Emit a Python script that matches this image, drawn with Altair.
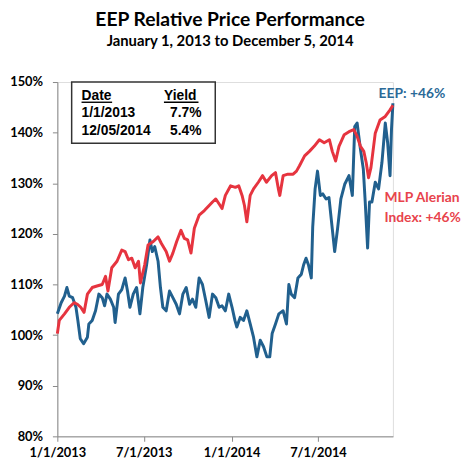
import altair as alt
import pandas as pd

# days since 1/1/2013 and value (%) for each series
mlp_days = [0, 4, 15, 25, 35, 42, 49, 56, 63, 73, 83, 94, 101, 106, 114, 125, 135, 142, 149, 156,
            163, 170, 174, 183, 190, 201, 211, 218, 228, 235, 242, 250, 259, 266, 273, 280, 287, 297,
            308, 318, 325, 332, 339, 345, 352, 363, 373, 380, 387, 392, 397, 404, 411, 421, 430, 438,
            449, 457, 463, 466, 473, 483, 494, 501, 507, 518, 528, 538, 549, 559, 570, 576, 583, 590,
            601, 611, 621, 628, 635, 642, 647, 652, 657, 666, 676, 687, 697, 703]
mlp_vals = [100.3, 102.9, 104.2, 105.5, 106.4, 106.1, 105.5, 104.5, 108.1, 109.4, 109.7, 110.0, 111.6,
            108.7, 113.3, 114.6, 116.8, 116.5, 114.9, 115.2, 113.3, 114.6, 110.3, 113.9, 117.8, 118.5,
            119.4, 118.1, 116.5, 114.6, 116.2, 118.5, 120.7, 119.1, 118.8, 116.2, 121.1, 123.7, 124.6,
            125.6, 126.3, 126.9, 125.9, 125.0, 127.6, 129.5, 129.2, 129.5, 127.6, 125.6, 122.4, 127.6,
            128.9, 130.2, 131.5, 130.2, 131.5, 132.1, 128.9, 127.6, 131.5, 131.8, 131.8, 132.4, 133.4,
            135.4, 136.3, 137.3, 138.6, 138.0, 138.6, 136.3, 134.4, 137.3, 139.6, 140.2, 140.6, 139.3,
            137.3, 136.3, 134.1, 131.1, 133.1, 139.9, 142.5, 143.2, 144.5, 145.4]

eep_days = [0, 8, 15, 20, 25, 32, 39, 43, 48, 55, 63, 66, 73, 80, 87, 94, 99, 104, 111, 118,
            121, 128, 135, 142, 147, 152, 159, 166, 173, 179, 187, 194, 199, 204, 211, 216, 221, 228,
            235, 242, 249, 256, 263, 270, 277, 283, 290, 297, 304, 311, 318, 325, 332, 339, 345, 352,
            359, 366, 372, 376, 383, 390, 397, 404, 411, 418, 425, 432, 439, 445, 450, 457, 464, 473,
            480, 485, 490, 497, 504, 511, 516, 521, 526, 532, 535, 540, 545, 551, 556, 563, 569, 576,
            581, 587, 594, 602, 611, 618, 623, 628, 635, 641, 645, 650, 654, 659, 666, 673, 680, 687,
            692, 697, 700, 703]
eep_vals = [104.2, 106.4, 107.7, 109.4, 107.7, 107.4, 105.5, 102.9, 99.3, 98.3, 99.6, 102.2, 102.9,
            104.8, 108.1, 107.4, 105.8, 108.1, 107.1, 105.5, 102.5, 108.1, 109.0, 111.3, 108.7, 105.5,
            108.1, 109.4, 104.2, 109.4, 113.9, 118.8, 116.5, 117.5, 114.6, 109.4, 105.5, 104.8, 108.7,
            107.4, 106.1, 104.2, 108.1, 109.4, 106.1, 107.1, 105.5, 111.3, 110.0, 106.8, 103.5, 108.1,
            107.4, 105.5, 105.8, 104.8, 108.1, 105.5, 102.9, 101.6, 103.5, 102.9, 104.8, 102.2, 99.6,
            95.7, 99.0, 97.7, 95.7, 95.7, 100.3, 102.2, 104.2, 104.8, 102.2, 110.0, 108.1, 107.4, 111.3,
            112.0, 113.9, 115.2, 113.9, 111.3, 121.4, 128.9, 132.4, 127.6, 127.9, 126.9, 127.2, 121.0,
            116.5, 121.0, 126.9, 129.8, 131.5, 127.6, 141.2, 141.9, 136.7, 132.8, 126.3, 117.2, 126.3,
            126.3, 130.2, 128.9, 134.1, 141.9, 138.0, 131.5, 140.6, 145.8]

series_names = ["EEP", "MLP Alerian"]
series_colors = ["#21608E", "#E6343F"]
y_ticks = [80, 90, 100, 110, 120, 130, 140, 150]

start = pd.Timestamp("2013-01-01")
def to_dates(days):
    return [(start + pd.Timedelta(days=d)).strftime("%Y-%m-%d") for d in days]

df = pd.concat([
    pd.DataFrame({"date": to_dates(eep_days), "value": eep_vals, "series": "EEP", "order": 0}),
    pd.DataFrame({"date": to_dates(mlp_days), "value": mlp_vals, "series": "MLP Alerian", "order": 1}),
])

FONT = "Lato"
AXIS_COLOR = "#888888"

x_enc = alt.X(
    "date:T",
    scale=alt.Scale(domain=[alt.DateTime(year=2013, month=1, date=1, utc=True),
                            alt.DateTime(year=2014, month=12, date=5, utc=True)]),
    axis=alt.Axis(
        title=None, grid=False,
        values=[alt.DateTime(year=2013, month=1, date=1, utc=True),
                alt.DateTime(year=2013, month=7, date=1, utc=True),
                alt.DateTime(year=2014, month=1, date=1, utc=True),
                alt.DateTime(year=2014, month=7, date=1, utc=True)],
        labelExpr="utcFormat(datum.value, '%-m/%-d/%Y')",
        domainColor=AXIS_COLOR, tickColor=AXIS_COLOR, tickSize=5,
        labelFont=FONT, labelFontSize=13, labelFontWeight="bold", labelColor="black",
        labelPadding=5, labelFlush=False, labelOverlap=False,
    ),
)
y_enc = alt.Y(
    "value:Q",
    scale=alt.Scale(domain=[80, 150], nice=False, zero=False),
    axis=alt.Axis(
        title=None, grid=False, values=y_ticks,
        labelExpr="datum.value + '%'",
        domainColor=AXIS_COLOR, tickColor=AXIS_COLOR, tickSize=5,
        labelFont=FONT, labelFontSize=13, labelFontWeight="bold", labelColor="black",
        labelPadding=10,
    ),
)

lines = alt.Chart(df).mark_line(strokeWidth=3, interpolate="linear", strokeJoin="round").encode(
    x=x_enc, y=y_enc,
    color=alt.Color("series:N", scale=alt.Scale(domain=series_names, range=series_colors), legend=None),
    order=alt.Order("order:Q"),
    detail="series:N",
)

one = pd.DataFrame({"k": [0]})

box = alt.Chart(one).mark_rect(fill="white", stroke="#333333", strokeWidth=1.5).encode(
    x=alt.value(14.5), x2=alt.value(160), y=alt.value(0), y2=alt.value(62))

def txt(s, x, y, color="black", align="left", size=14, font="Liberation Sans"):
    return alt.Chart(one).mark_text(align=align, baseline="alphabetic", font=font,
                                     fontSize=size, fontWeight="bold", color=color).encode(
        x=alt.value(x), y=alt.value(y), text=alt.value(s))

def uline(x1, x2, y):
    return alt.Chart(one).mark_rule(color="black", strokeWidth=1.4).encode(
        x=alt.value(x1), x2=alt.value(x2), y=alt.value(y))

annot = [
    box,
    txt("Date", 24.5, 18.3), uline(24.5, 55.5, 20.5),
    txt("Yield", 108, 18.3), uline(108, 143, 20.5),
    txt("1/1/2013", 24.5, 35.7), txt("7.7%", 146, 35.7, align="right"),
    txt("12/05/2014", 24.5, 53.3), txt("5.4%", 146, 53.3, align="right"),
    txt("EEP: +46%", 325.5, 16, color="#2B6A98", size=14, font=FONT),
    txt("MLP Alerian", 331.5, 121.7, color="#E8434C", size=14, font=FONT),
    txt("Index: +46%", 331.5, 141.5, color="#E8434C", size=14, font=FONT),
]

chart = alt.layer(lines, *annot).properties(
    width=340, height=359,
    autosize=alt.AutoSizeParams(type="none"),
    padding={"left": 50, "top": 72, "right": 70, "bottom": 24},
    title=alt.TitleParams(
        text="EEP Relative Price Performance",
        subtitle="January 1, 2013 to December 5, 2014",
        font=FONT, fontSize=19.5, fontWeight="bold", color="black",
        subtitleFont=FONT, subtitleFontSize=15, subtitleFontWeight="bold", subtitleColor="black",
        anchor="middle", dx=5, offset=27, subtitlePadding=3,
    ),
).configure_view(stroke=None).configure(background="white")

chart.save("out.html", embed_options={"renderer": "svg", "actions": False})
